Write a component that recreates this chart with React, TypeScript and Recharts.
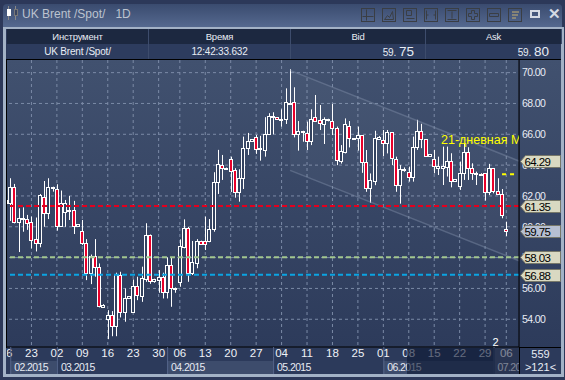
import React from 'react';
import {
  ComposedChart,
  Bar,
  Area,
  Line,
  XAxis,
  YAxis,
  CartesianGrid,
  ReferenceLine,
  ReferenceDot,
} from 'recharts';

const opens = [
  61.55, 61.57, 62.56, 60.29, 60.48, 60.48, 60.29, 59.19, 58.97, 61.96, 60.87, 62.54, 62.43, 60.05, 60.98, 61.05, 61.09, 60.05, 59.73, 58.97,
  56.97, 58.1, 57.36, 54.81, 53.99, 54.27, 53.58, 56.87, 54.48, 55.35, 54.48, 56.15, 55.5, 56.58, 59.46, 56.5, 56.54, 56.76, 55.78, 57.52,
  56.0, 56.43, 58.66, 59.94, 57.02, 57.67, 59.08, 59.08, 59.08, 59.84, 62.89, 64.01, 63.8, 64.38, 63.69, 62.28, 63.15, 65.1, 65.59, 65.81,
  65.03, 64.99, 66.0, 67.11, 67.11, 66.93, 66.97, 67.96, 68.07, 66.02, 66.17, 66.1, 65.58, 67.1, 66.9, 66.7, 66.93, 66.88, 66.43, 64.26,
  64.87, 66.56, 65.7, 65.78, 65.95, 64.18, 62.53, 62.99, 65.71, 65.63, 65.41, 66.13, 64.39, 62.71, 63.69, 63.54, 63.26, 65.16, 66.24, 65.68,
  64.6, 64.38, 63.84, 63.84, 63.9, 64.27, 63.0, 62.67, 63.47, 64.84, 63.84, 63.41, 63.41, 63.47, 62.24, 63.8, 62.32, 62.11, 59.84,
];
const highs = [
  61.8, 63.15, 62.78, 61.2, 61.26, 60.77, 60.66, 60.6, 62.13, 62.97, 63.15, 62.6, 62.76, 62.35, 61.74, 62.0, 61.68, 60.16, 60.44, 59.2,
  58.2, 59.2, 57.62, 54.98, 54.59, 54.53, 57.02, 57.08, 56.0, 55.5, 56.58, 56.76, 57.41, 60.23, 59.5, 56.63, 57.19, 57.02, 58.01, 58.01,
  56.06, 59.18, 60.48, 60.0, 59.08, 59.2, 59.1, 60.66, 60.5, 63.54, 64.99, 64.66, 63.84, 64.55, 63.8, 63.73, 65.85, 66.09, 65.68, 65.96,
  65.9, 67.11, 67.37, 67.43, 67.11, 67.62, 68.98, 70.22, 69.05, 66.86, 66.23, 66.82, 67.62, 68.55, 67.9, 67.1, 67.01, 67.97, 66.5, 65.3,
  67.03, 66.86, 65.74, 66.5, 65.95, 64.98, 63.46, 66.23, 65.89, 66.28, 66.28, 66.13, 64.55, 64.0, 63.85, 63.9, 65.85, 66.94, 66.68, 65.68,
  64.7, 64.99, 64.55, 65.2, 65.2, 64.77, 63.1, 64.23, 65.42, 65.16, 64.12, 63.58, 63.47, 63.47, 64.08, 63.8, 63.15, 62.45, 60.33,
];
const lows = [
  61.5, 60.38, 60.22, 58.36, 59.68, 59.8, 58.6, 58.4, 58.67, 60.0, 60.5, 62.28, 59.75, 60.05, 60.0, 60.44, 59.53, 60.0, 58.82, 56.54,
  56.28, 56.76, 54.77, 54.81, 52.71, 52.9, 52.9, 54.12, 53.84, 55.35, 54.42, 55.24, 55.13, 56.43, 56.3, 56.37, 55.72, 55.35, 55.35, 54.81,
  55.72, 56.11, 58.6, 56.43, 56.87, 57.31, 58.88, 58.49, 59.0, 59.68, 62.13, 63.04, 63.7, 62.26, 61.89, 61.63, 62.45, 64.66, 65.53, 64.73,
  64.29, 64.55, 65.96, 66.0, 66.93, 66.5, 66.67, 67.9, 65.8, 64.94, 65.52, 64.98, 65.3, 66.82, 66.28, 65.37, 66.84, 65.95, 64.0, 64.1,
  64.76, 65.15, 65.68, 64.94, 63.5, 62.27, 61.56, 62.7, 65.71, 64.59, 64.76, 64.0, 62.27, 61.5, 63.57, 62.93, 62.93, 64.99, 65.1, 64.55,
  64.6, 63.47, 63.36, 62.71, 63.26, 62.56, 62.96, 62.39, 63.04, 63.04, 63.04, 62.71, 63.38, 61.7, 62.06, 62.17, 62.06, 60.55, 59.4,
];
const closes = [
  61.75, 62.56, 60.29, 60.55, 60.55, 60.27, 59.16, 58.97, 62.04, 60.87, 62.6, 62.6, 60.05, 61.52, 61.52, 61.09, 60.05, 60.16, 58.93, 56.97,
  58.1, 57.41, 54.85, 54.92, 54.27, 53.58, 56.93, 54.48, 55.35, 55.5, 56.15, 55.57, 56.65, 59.47, 56.5, 56.63, 56.76, 55.78, 57.52, 56.06,
  56.06, 58.75, 59.9, 57.02, 57.73, 59.08, 58.9, 58.9, 59.84, 62.89, 64.06, 63.84, 63.84, 63.65, 62.28, 63.15, 65.1, 65.59, 65.68, 65.07,
  65.1, 66.0, 67.19, 67.19, 66.98, 66.97, 68.07, 68.05, 66.02, 66.23, 66.23, 65.58, 67.01, 66.88, 66.75, 66.97, 67.01, 66.43, 64.33, 64.91,
  66.65, 65.74, 65.74, 65.93, 64.18, 62.53, 63.03, 65.74, 65.8, 65.41, 66.13, 64.44, 62.71, 63.74, 63.75, 63.26, 65.16, 66.24, 65.68, 64.6,
  64.7, 63.95, 63.95, 63.95, 64.27, 63.0, 63.08, 63.47, 64.84, 63.84, 63.52, 63.52, 63.45, 62.24, 63.8, 62.35, 62.11, 60.77, 59.75,
];

const dateTicks = [0, 6, 12, 18, 24, 30, 36, 41, 47, 53, 59, 65, 71, 77, 83, 89, 95, 101, 107, 113, 118];
const dateLabels = ['16', '23', '02', '09', '16', '23', '30', '06', '13', '20', '27', '04', '11', '18', '25', '01', '08', '15', '22', '29', '06'];
const monthTicks = [1, 12, 38, 63, 89, 115];
const monthLabels = ['02.2015', '03.2015', '04.2015', '05.2015', '06.2015', '07.2015'];
const priceTicks = [54, 56, 58, 60, 62, 64, 66, 68, 70];

const channelIdx = [67, 121];
const channelUpper = [70.15, 64.27];
const channelLower = [63.66, 57.8];

const bid = 59.75;
const ma21Level = 63.41;
const levels = [
  { value: 61.35, color: '#e4001e' },
  { value: 58.03, color: '#a2c68f' },
  { value: 56.88, color: '#0ba4e2' },
];
const tagValues = [64.29, 61.35, bid, 58.03, 56.88];

const rows: any[] = opens.map((o, i) => ({ idx: i, open: o, high: highs[i], low: lows[i], close: closes[i] }));
rows.push({ idx: 121 });
channelIdx.forEach((idx, k) => {
  const row = rows.find((r) => r.idx === idx);
  row.upper = channelUpper[k];
  row.lower = channelLower[k];
  row.band = [channelLower[k], channelUpper[k]];
});

const FONT = '"Liberation Sans", Arial, sans-serif';
const STEP = 4.24;

const Candle = (props: any) => {
  const { x, y, width, height, payload } = props;
  if (payload.high == null) return null;
  const scale = height / (payload.high - payload.low);
  const at = (v: number) => y + (payload.high - v) * scale;
  const cx = Math.round(x + width / 2);
  const top = Math.round(at(Math.max(payload.open, payload.close))) + 0.5;
  const bottom = Math.round(at(Math.min(payload.open, payload.close))) + 0.5;
  const down = payload.close < payload.open;
  return (
    <g>
      <rect x={cx} y={y} width={1} height={height} fill="#ffffff" />
      <rect
        x={cx - 1.5}
        y={top}
        width={3}
        height={Math.max(bottom - top, 1)}
        fill={down ? '#e8002a' : '#33425f'}
        stroke="#ffffff"
        strokeWidth={1}
      />
    </g>
  );
};

// drawn as ticks of a second axis so the tags sit over the price labels
const PriceTag = ({ y, payload }: any) => {
  const x = 520.5;
  const top = Math.round(y) - 5.5;
  const fill = payload.value === bid ? '#b6bfd2' : '#d9d9c2';
  return (
    <g>
      <polygon
        points={`${x},${top + 6} ${x + 5},${top} ${x + 40},${top} ${x + 40},${top + 12} ${x + 5},${top + 12}`}
        fill={fill}
        stroke="#77786a"
      />
      <text x={x + 4} y={top + 10} fontSize={11.5} letterSpacing={-0.6} fontFamily={FONT} fill="#000000">
        {payload.value.toFixed(2)}
      </text>
    </g>
  );
};

const MonthTick = ({ x, y, payload, index }: any) => {
  const next = monthTicks[index + 1];
  const w = next ? (next - payload.value) * STEP : 30;
  return (
    <g>
      {index % 2 === 0 && <rect x={x} y={y} width={w} height={13} fill="#3d4c6c" />}
      <line x1={x + 0.5} x2={x + 0.5} y1={y - 14} y2={y + 13} stroke="#55658a" />
      <text x={x + 4} y={y + 10} fontSize={10.5} letterSpacing={-0.6} fontFamily={FONT} fill="#e6eaf2">
        {monthLabels[index]}
      </text>
    </g>
  );
};

const MaLabel = ({ cx, cy }: any) => (
  <svg x={cx} y={cy - 11} width={519 - cx} height={16}>
    <text x={0} y={12} fontSize={12.5} fontFamily={FONT} fill="#ffff00">
      21-дневная МА
    </text>
  </svg>
);

const toolGlyphs = [
  'M5 1V12M1 8H12',
  'M2 11L5 7L7 9L10 3L11 11Z',
  'M3 2H8V7H3ZM3 10H11',
  'M2 2V11M11 2V11M4 6.5L2 6.5M9 6.5L11 6.5',
  'M2 2H11M2 11H11M6.5 3V10',
  'M5 2H8V5H11V8H8V11H5V8H2V5H5Z',
  'M2 5H11V8H2Z',
];

const ToolButton = ({ x, glyph }: { x: number; glyph: string }) => (
  <svg style={{ position: 'absolute', left: x, top: 8 }} width={14} height={14}>
    <rect x={0.5} y={0.5} width={13} height={13} fill="none" stroke="#3a3e44" />
    <path d={glyph} fill="none" stroke="#3a3e44" transform="translate(0.5,0.5)" />
  </svg>
);

const abs = (left: number, top: number, width: number, height: number, extra: React.CSSProperties = {}): React.CSSProperties => ({
  position: 'absolute',
  left,
  top,
  width,
  height,
  ...extra,
});

const headerCols = [
  { left: 7, width: 141, title: 'Инструмент' },
  { left: 149, width: 141, title: 'Время' },
  { left: 291, width: 134, title: 'Bid' },
  { left: 426, width: 135, title: 'Ask' },
];

const Quote = ({ big, right }: { big: string; right: number }) => (
  <div style={abs(right - 60, 44, 60, 15, { textAlign: 'right', color: '#e8ecf4', lineHeight: '15px', fontSize: 10, letterSpacing: -0.2 })}>
    59.<span style={{ fontSize: 13.5, marginLeft: 3, letterSpacing: 0 }}>{big}</span>
  </div>
);

export default function App() {
  return (
    <div style={{ position: 'fixed', left: 0, top: 0, width: 565, height: 380, overflow: 'hidden', background: '#2c3859', fontFamily: FONT }}>
      {/* title bar */}
      <div style={abs(3, 4, 559, 24, { background: 'linear-gradient(#3a4b6f, #566a90)', borderRadius: '4px 4px 0 0' })} />
      <div style={abs(8, 6, 4, 14, { borderLeft: '1px solid #888' })}>
        <div style={abs(-2, 3, 4, 7, { background: '#ffffff' })} />
      </div>
      <div style={abs(15, 6, 4, 14, { borderLeft: '1px solid #888' })}>
        <div style={abs(-2, 3, 4, 7, { background: '#3a4560', border: '1px solid #777', boxSizing: 'border-box' })} />
      </div>
      <div style={abs(22, 7, 120, 15, { color: '#bcc3cf', fontSize: 12, lineHeight: '15px', whiteSpace: 'pre' })}>UK Brent /Spot/   1D</div>
      {[361, 382, 403, 424, 445, 466, 487].map((x, i) => (
        <ToolButton key={x} x={x} glyph={toolGlyphs[i]} />
      ))}
      <svg style={{ position: 'absolute', left: 508, top: 8 }} width={14} height={14}>
        <rect x={0.5} y={0.5} width={13} height={13} fill="none" stroke="#3a3e44" />
        <path d="M4 4H11M4 7H10M4 10H8" stroke="#c8b070" fill="none" />
      </svg>
      <div style={abs(530, 10, 6, 4, { border: '2px solid #d5dae4' })} />
      <div style={abs(548, 5, 12, 18, { color: '#d5dae4', fontSize: 15, fontWeight: 700, lineHeight: '18px' })}>✕</div>

      {/* frame */}
      <div style={abs(3, 27, 559, 2, { background: '#a3b2c6' })} />
      <div style={abs(561, 27, 3, 350, { background: '#a3b2c6' })} />
      <div style={abs(3, 374, 561, 3, { background: '#a3b2c6' })} />

      {/* quote table */}
      <div style={abs(7, 29, 554, 15, { background: '#1c2840' })} />
      <div style={abs(7, 44, 554, 15, { background: '#2d3c5e' })} />
      {headerCols.map((c) => (
        <div key={c.title} style={abs(c.left, 29, c.width, 15, { textAlign: 'center', color: '#e8ecf4', fontSize: 9.5, letterSpacing: -0.2, lineHeight: '15px', borderRight: '1px solid #3d4c6c' })}>
          {c.title}
        </div>
      ))}
      <div style={abs(148, 44, 1, 15, { background: '#3d4c6c' })} />
      <div style={abs(290, 44, 1, 15, { background: '#3d4c6c' })} />
      <div style={abs(425, 44, 1, 15, { background: '#3d4c6c' })} />
      <div style={abs(7, 44, 141, 15, { textAlign: 'center', color: '#e8ecf4', fontSize: 10, letterSpacing: -0.2, lineHeight: '15px' })}>UK Brent /Spot/</div>
      <div style={abs(149, 44, 141, 15, { textAlign: 'center', color: '#e8ecf4', fontSize: 10, letterSpacing: -0.2, lineHeight: '15px' })}>12:42:33.632</div>
      <Quote big="75" right={414} />
      <Quote big="80" right={549} />
      <div style={abs(6, 59, 555, 1, { background: '#000000' })} />

      {/* plot + axes backdrop */}
      <div style={abs(7, 60, 512, 287, { background: 'linear-gradient(#41516f, #2d3b5b)' })} />
      <div style={abs(7, 347, 554, 27, { background: '#2c3a5b' })} />
      <div style={abs(520, 60, 41, 287, { background: 'linear-gradient(#41516f, #2d3b5b)' })} />

      <div style={abs(0, 0, 565, 380)}>
        <ComposedChart
          width={565}
          height={380}
          data={rows}
          margin={{ top: 60, right: 0, bottom: 5, left: 3 }}
          barSize={4}
        >
          <CartesianGrid stroke="#7b8aa6" strokeDasharray="3 3" syncWithTicks />
          <XAxis
            dataKey="idx"
            type="number"
            domain={[-0.71, 121]}
            ticks={dateTicks}
            interval={0}
            height={14}
            tickSize={0}
            tickMargin={2}
            axisLine={{ stroke: '#000000' }}
            tick={{ fill: '#eef1f6', fontSize: 11.5, fontFamily: FONT }}
            tickFormatter={(v: number) => dateLabels[dateTicks.indexOf(v)]}
          />
          <XAxis
            xAxisId="months"
            dataKey="idx"
            type="number"
            domain={[-0.71, 121]}
            ticks={monthTicks}
            interval={0}
            height={14}
            tickSize={0}
            tickMargin={0}
            axisLine={false}
            tick={<MonthTick />}
          />
          <YAxis
            orientation="right"
            width={45}
            domain={[52.2, 70.82]}
            ticks={priceTicks}
            interval={0}
            allowDataOverflow
            tickSize={0}
            tickMargin={3}
            axisLine={{ stroke: '#000000' }}
            tick={{ fill: '#e8ecf4', fontSize: 10.5, letterSpacing: -0.6, fontFamily: FONT, textAnchor: 'start' }}
            tickFormatter={(v: number) => v.toFixed(2)}
          />
          <YAxis
            yAxisId="tags"
            orientation="right"
            width={1}
            domain={[52.2, 70.82]}
            ticks={tagValues}
            interval={0}
            allowDataOverflow
            tickSize={0}
            axisLine={false}
            tick={<PriceTag />}
          />
          <Area dataKey="band" stroke="none" fill="#ffffff" fillOpacity={0.035} connectNulls dot={false} activeDot={false} isAnimationActive={false} />
          <Line dataKey="upper" stroke="#8694ae" strokeOpacity={0.42} strokeWidth={1.5} connectNulls dot={false} activeDot={false} isAnimationActive={false} />
          <Line dataKey="lower" stroke="#8694ae" strokeOpacity={0.42} strokeWidth={1.5} connectNulls dot={false} activeDot={false} isAnimationActive={false} />
          <Bar dataKey={(d: any) => (d.high == null ? null : [d.low, d.high])} shape={<Candle />} isAnimationActive={false} />
          {levels.map((l) => (
            <ReferenceLine key={l.value} y={l.value} stroke={l.color} strokeWidth={2} strokeDasharray="5 3" />
          ))}
          <ReferenceLine
            segment={[
              { x: 117, y: ma21Level },
              { x: 120.5, y: ma21Level },
            ]}
            stroke="#ffff00"
            strokeWidth={2}
            strokeDasharray="4 4"
          />
          <ReferenceDot x={102.6} y={65.44} r={0} shape={<MaLabel />} />
          <ReferenceDot
            x={115.5}
            y={52.55}
            r={0}
            label={{ value: '2', fill: '#ffffff', fontSize: 11, fontFamily: FONT }}
          />
        </ComposedChart>
      </div>

      {/* left frame, covers the clipped first candle and label */}
      <div style={abs(0, 27, 3, 353, { background: '#2c3859' })} />
      <div style={abs(3, 27, 3, 350, { background: '#a3b2c6' })} />
      <div style={abs(6, 60, 1, 288, { background: '#000000' })} />
      <div style={abs(6, 348, 1, 26, { background: '#2c3a5b' })} />

      {/* scroll window over the date strip */}
      <div style={abs(407, 348, 88, 26, { background: 'rgba(13,24,52,0.62)' })} />
      <div style={abs(495, 348, 24, 26, { background: 'rgba(40,50,75,0.55)' })} />

      {/* counter cell */}
      <div style={abs(519, 347, 42, 1, { background: '#000000' })} />
      <div style={abs(519, 348, 1, 26, { background: '#000000' })} />
      <div style={abs(520, 348, 41, 26, { background: '#2c3a5b', color: '#e8ecf4', fontSize: 11, textAlign: 'center', lineHeight: '13px' })}>
        559
        <br />
        &gt;121&lt;
      </div>
    </div>
  );
}
